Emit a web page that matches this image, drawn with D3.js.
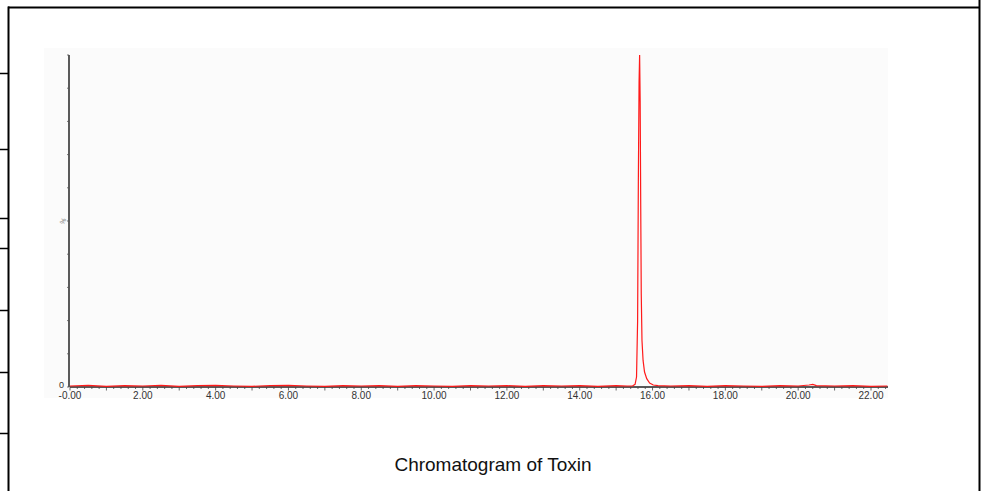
<!DOCTYPE html>
<html><head><meta charset="utf-8">
<script src="https://cdn.jsdelivr.net/npm/d3@7"></script>
<style>body{margin:0;background:#fff}svg{display:block}</style>
</head><body>
<script>
// ---- data ----
const xTickLabels = ["-0.00","2.00","4.00","6.00","8.00","10.00","12.00","14.00","16.00","18.00","20.00","22.00"];
const xTickValues = [0,2,4,6,8,10,12,14,16,18,20,22];
// baseline (retention time in min, relative intensity %)
const baseTimes = [0,0.5,1,1.5,2,2.5,3,3.5,4,4.5,5,5.5,6,6.5,7,7.5,8,8.5,9,9.5,10,10.5,11,11.5,12,12.5,13,13.5,14,14.5,15,15.3];
const baseVals  = [0.3,0.5,0.2,0.4,0.3,0.5,0.2,0.4,0.5,0.3,0.2,0.4,0.5,0.3,0.2,0.4,0.3,0.4,0.2,0.4,0.3,0.2,0.4,0.3,0.4,0.2,0.4,0.3,0.4,0.2,0.4,0.3];
// main peak
const peakTimes = [15.45,15.52,15.56,15.59,15.61,15.63,15.645,15.66,15.675,15.69,15.71,15.74,15.78,15.84,15.92,16.02,16.15];
const peakVals  = [0.3,0.8,3,20,62,92,100,86,55,28,14,8,4.5,2.5,1.2,0.6,0.4];
// tail and minor bump
const tailTimes = [16.5,17,17.5,18,18.5,19,19.5,20,20.3,20.4,20.5,21,21.5,22,22.45];
const tailVals  = [0.3,0.4,0.2,0.4,0.3,0.2,0.4,0.3,0.6,0.8,0.4,0.3,0.4,0.2,0.3];
const yTicks = [0,10,20,30,40,50,60,70,80,90,100];
const title = "Chromatogram of Toxin";

const W = 991, H = 491;
const svg = d3.select("body").append("svg").attr("width", W).attr("height", H);

// page table borders
const borderColor = "#000";
svg.append("line").attr("x1",8).attr("x2",980).attr("y1",7.5).attr("y2",7.5).attr("stroke",borderColor).attr("stroke-width",2);
svg.append("line").attr("x1",8.5).attr("x2",8.5).attr("y1",6.5).attr("y2",H).attr("stroke",borderColor).attr("stroke-width",2);
svg.append("line").attr("x1",979.5).attr("x2",979.5).attr("y1",0).attr("y2",H).attr("stroke",borderColor).attr("stroke-width",2);
[73,149,218,248,310,372,433].forEach(y => {
  svg.append("line").attr("x1",0).attr("x2",8).attr("y1",y+0.5).attr("y2",y+0.5).attr("stroke",borderColor).attr("stroke-width",1.5);
});

// plot panel background
svg.append("rect").attr("x",44).attr("y",48).attr("width",844).attr("height",350).attr("fill","#fbfbfb");

const x = d3.scaleLinear().domain([0,22]).range([70,871]);
const y = d3.scaleLinear().domain([0,100]).range([387,55]);

// x axis
const xAxisG = svg.append("g").attr("transform","translate(0,387)");
xAxisG.append("line").attr("x1",x(0)).attr("x2",888).attr("y1",0).attr("y2",0).attr("stroke","#222").attr("stroke-width",1.5);
const minor = d3.range(0, 22.45, 0.2);
xAxisG.selectAll("line.minor").data(minor).enter().append("line").attr("class","minor")
  .attr("x1",d=>x(d)).attr("x2",d=>x(d)).attr("y1",0).attr("y2",d=> Math.abs(d - Math.round(d))<1e-6 ? 3.5 : 2)
  .attr("stroke","#444").attr("stroke-width",0.8);
xAxisG.selectAll("text").data(xTickValues).enter().append("text")
  .attr("x",d=>x(d)).attr("y",12).attr("text-anchor","middle")
  .attr("font-family","Liberation Sans, Arial, sans-serif").attr("font-size",10).attr("fill","#333")
  .text((d,i)=>xTickLabels[i]);

// y axis
const yAxisG = svg.append("g");
yAxisG.append("line").attr("x1",69).attr("x2",69).attr("y1",y(100)).attr("y2",y(0)).attr("stroke","#333").attr("stroke-width",1.6);
yAxisG.selectAll("line.t").data(yTicks).enter().append("line").attr("class","t")
  .attr("x1",67).attr("x2",69).attr("y1",d=>y(d)).attr("y2",d=>y(d)).attr("stroke","#555").attr("stroke-width",0.8);
yAxisG.append("text").attr("x",64).attr("y",y(0)+0.5).attr("text-anchor","end")
  .attr("font-family","Liberation Sans, Arial, sans-serif").attr("font-size",9).attr("fill","#333").text("0");
yAxisG.append("text").attr("transform",`translate(63,${y(50)}) rotate(-60)`).attr("text-anchor","middle").attr("dy","0.35em")
  .attr("font-family","Liberation Sans, Arial, sans-serif").attr("font-size",7).attr("fill","#777").text("%");

// trace
const pts = [];
baseTimes.forEach((t,i)=>pts.push([t,baseVals[i]]));
peakTimes.forEach((t,i)=>pts.push([t,peakVals[i]]));
tailTimes.forEach((t,i)=>pts.push([t,tailVals[i]]));
const line = d3.line().x(d=>x(d[0])).y(d=>y(d[1]));
svg.append("path").datum(pts).attr("d",line).attr("fill","none").attr("stroke","#ff1a1a").attr("stroke-width",1.2);

// caption
svg.append("text").attr("x",493).attr("y",471).attr("text-anchor","middle")
  .attr("font-family","Liberation Sans, Arial, sans-serif").attr("font-size",19).attr("fill","#111").text(title);
</script>
</body></html>
